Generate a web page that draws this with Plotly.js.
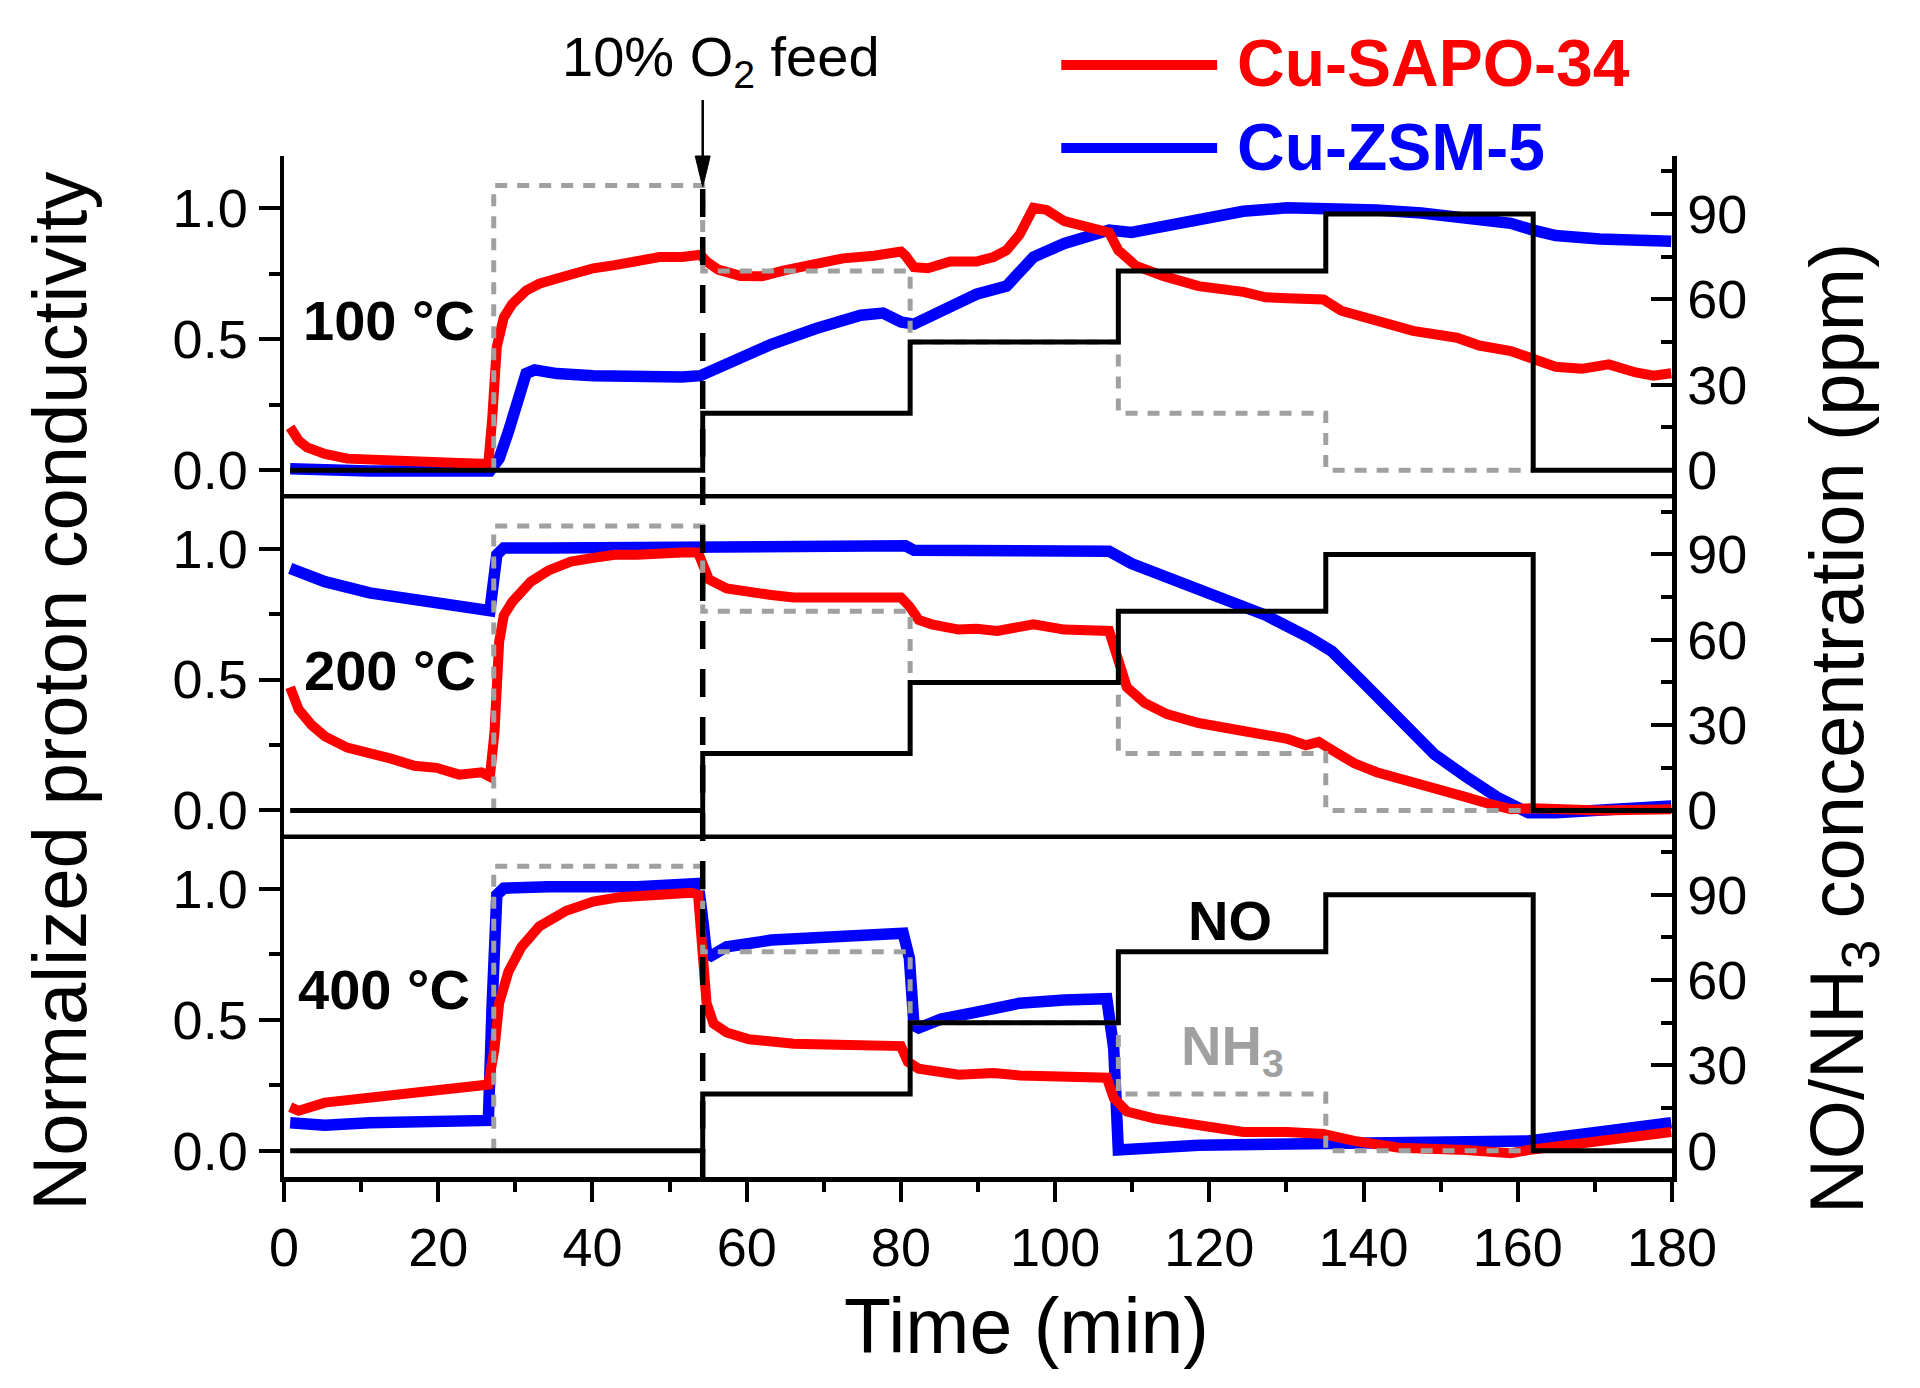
<!DOCTYPE html>
<html>
<head>
<meta charset="utf-8">
<script src="https://cdn.plot.ly/plotly-3.0.1.min.js"></script>
<style>
  html, body { margin: 0; padding: 0; background: #fff; }
  #chart { width: 1920px; height: 1388px; }
</style>
</head>
<body>
<div id="chart"></div>
<script>
/***** gas feed steps (ppm, right axis) *****/
var stepTimes = [0.8, 27.2, 54.3, 81.2, 108.2, 135.1, 162, 180];
var noPpm     = [0,   0,    20,   45,   70,    90,    0,   0];
var nh3Times  = [27.2, 27.2, 54.3, 81.2, 108.2, 135.1, 162];
var nh3Ppm    = [0,    100,  70,   45,   20,    0,     0];
var o2FeedTime = 54.3;

/***** 100 °C *****/
var tSapo100 = [0.8, 1.9, 3.0, 5.3, 8.2, 11.1, 16.9, 22.7, 25.6, 26.5, 27.0, 27.6, 28.5, 29.6, 31.4, 33.1, 35.4, 37.7, 40.1, 42.9,
  45.8, 48.7, 51.6, 54.0, 54.8, 56.3, 59.2, 62.0, 64.9, 69.0, 72.5, 76.5, 80.0, 80.6, 81.7, 83.5, 86.4, 89.8, 92.0, 93.7,
  95.4, 97.2, 98.9, 101.2, 104.1, 107.0, 108.2, 110.5, 114.0, 118.6, 124.4, 127.3, 130.1, 134.8, 137.1, 140.5, 146.4, 152.1, 155.0, 159.1,
  162.0, 164.9, 168.3, 171.8, 175.3, 177.6, 179.9];
var sapo100 = [0.164, 0.113, 0.087, 0.062, 0.044, 0.039, 0.033, 0.027, 0.024, 0.027, 0.198, 0.472, 0.583, 0.635, 0.686, 0.712, 0.732, 0.751, 0.771, 0.783,
  0.794, 0.814, 0.814, 0.823, 0.797, 0.766, 0.742, 0.741, 0.763, 0.789, 0.809, 0.819, 0.835, 0.819, 0.775, 0.771, 0.797, 0.797, 0.814, 0.840,
  0.900, 1.002, 0.994, 0.951, 0.925, 0.908, 0.840, 0.780, 0.742, 0.703, 0.681, 0.660, 0.657, 0.652, 0.609, 0.578, 0.532, 0.506, 0.476, 0.455,
  0.421, 0.395, 0.387, 0.404, 0.373, 0.361, 0.370];
var tZsm100 = [0.8, 11.1, 26.7, 27.9, 29.1, 30.2, 31.4, 32.5, 35.4, 40.1, 45.8, 51.6, 54.0, 57.4, 63.2, 69.0, 74.8, 77.7, 80.0, 81.7,
  85.2, 89.8, 93.7, 95.4, 97.2, 101.2, 107.0, 109.9, 112.8, 118.6, 124.4, 130.1, 135.9, 141.7, 147.5, 153.3, 159.1, 162.0, 164.9, 170.6,
  176.4, 179.9];
var zsm100 = [0.005, -0.003, -0.003, 0.044, 0.147, 0.267, 0.369, 0.383, 0.369, 0.361, 0.356, 0.356, 0.361, 0.404, 0.481, 0.541, 0.592, 0.600, 0.566, 0.558,
  0.609, 0.672, 0.703, 0.763, 0.814, 0.866, 0.917, 0.908, 0.925, 0.960, 0.989, 1.002, 1.002, 0.994, 0.982, 0.968, 0.943, 0.917, 0.896, 0.883,
  0.878, 0.874];

/***** 200 °C *****/
var tSapo200 = [0.8, 1.9, 3.6, 5.3, 8.2, 11.1, 14.0, 16.9, 19.8, 22.7, 25.6, 26.7, 27.3, 27.9, 28.5, 29.6, 32.0, 34.3, 37.2, 40.1,
  42.9, 45.8, 48.7, 51.6, 53.7, 54.5, 55.1, 57.4, 60.3, 63.2, 66.1, 69.0, 71.9, 74.8, 80.0, 81.1, 82.3, 84.0, 87.5, 89.8,
  92.5, 97.2, 101.2, 107.0, 108.2, 109.3, 111.6, 114.5, 118.6, 124.4, 130.1, 132.5, 134.2, 135.9, 138.8, 141.7, 144.6, 147.5, 150.4, 153.3,
  156.2, 159.1, 162.0, 170.6, 179.9];
var sapo200 = [0.471, 0.386, 0.326, 0.283, 0.240, 0.223, 0.197, 0.171, 0.163, 0.137, 0.146, 0.129, 0.300, 0.643, 0.745, 0.797, 0.874, 0.917, 0.951, 0.965,
  0.977, 0.977, 0.985, 0.985, 0.985, 0.934, 0.883, 0.848, 0.831, 0.823, 0.814, 0.814, 0.809, 0.805, 0.814, 0.780, 0.728, 0.711, 0.691, 0.694,
  0.686, 0.711, 0.691, 0.686, 0.557, 0.471, 0.411, 0.368, 0.334, 0.300, 0.274, 0.249, 0.262, 0.231, 0.180, 0.146, 0.120, 0.094, 0.069, 0.051,
  0.026, 0.005, 0.009, 0.000, 0.005];
var tZsm200 = [0.8, 5.3, 11.1, 16.9, 22.7, 26.7, 27.6, 28.5, 34.3, 45.8, 57.4, 80.6, 81.7, 89.8, 107.0, 109.9, 115.7, 121.5, 127.3, 133.0,
  135.9, 140.0, 144.6, 149.2, 153.3, 157.3, 161.4, 164.9, 179.9];
var zsm200 = [0.925, 0.874, 0.831, 0.805, 0.780, 0.763, 0.977, 1.003, 1.003, 1.006, 1.003, 1.011, 0.994, 0.990, 0.990, 0.943, 0.874, 0.814, 0.746, 0.660,
  0.608, 0.488, 0.343, 0.214, 0.129, 0.051, -0.009, -0.009, 0.017];

/***** 400 °C *****/
var tSapo400 = [0.8, 1.9, 5.3, 11.1, 16.9, 22.7, 25.6, 26.5, 27.3, 27.9, 29.1, 30.8, 33.1, 36.6, 40.1, 43.5, 48.7, 52.8, 53.7, 54.2,
  54.8, 55.7, 57.4, 60.3, 66.1, 71.9, 80.0, 80.9, 82.3, 87.5, 89.8, 92.0, 95.4, 101.2, 106.7, 107.6, 109.3, 112.8, 118.6, 124.4,
  130.1, 134.8, 138.8, 144.6, 153.3, 159.1, 161.4, 170.6, 179.9];
var sapo400 = [0.167, 0.153, 0.184, 0.202, 0.222, 0.233, 0.245, 0.253, 0.391, 0.564, 0.684, 0.779, 0.857, 0.917, 0.952, 0.969, 0.978, 0.986, 0.978, 0.736,
  0.564, 0.486, 0.452, 0.426, 0.409, 0.405, 0.400, 0.340, 0.314, 0.291, 0.297, 0.297, 0.288, 0.284, 0.279, 0.202, 0.150, 0.124, 0.098, 0.072,
  0.072, 0.064, 0.038, 0.012, 0.003, -0.009, 0.003, 0.038, 0.072];
var tZsm400 = [0.8, 5.3, 11.1, 16.9, 22.7, 26.5, 27.0, 27.6, 28.5, 34.3, 45.8, 53.7, 54.2, 54.8, 55.4, 57.4, 63.2, 69.0, 74.8, 80.3,
  81.1, 81.7, 82.3, 85.2, 89.8, 95.4, 101.2, 106.7, 107.6, 108.2, 118.6, 135.9, 147.5, 161.4, 170.6, 179.9];
var zsm400 = [0.107, 0.098, 0.107, 0.112, 0.116, 0.116, 0.564, 0.978, 1.003, 1.009, 1.009, 1.021, 0.909, 0.753, 0.745, 0.779, 0.805, 0.814, 0.819, 0.831,
  0.736, 0.478, 0.469, 0.503, 0.530, 0.564, 0.576, 0.581, 0.391, 0.003, 0.021, 0.029, 0.029, 0.038, 0.072, 0.107];

var FONT = 'Arial, "Liberation Sans", sans-serif';
var RED = '#ff0000', BLUE = '#0000ff', GRAY = '#a0a0a0';

// one panel = blue, red, NH3 (dashed gray), NO (black), in that drawing order
function panel(tz, z, ts, s, yl, yr) {
  return [
    { x: tz, y: z, type: 'scatter', mode: 'lines', yaxis: yl, name: 'Cu-ZSM-5',
      line: { color: BLUE, width: 11.5 } },
    { x: ts, y: s, type: 'scatter', mode: 'lines', yaxis: yl, name: 'Cu-SAPO-34',
      line: { color: RED, width: 10 } },
    { x: nh3Times, y: nh3Ppm, type: 'scatter', mode: 'lines', yaxis: yr, name: 'NH3',
      line: { color: GRAY, width: 5, shape: 'hv', dash: '12px,10px' } },
    { x: stepTimes, y: noPpm, type: 'scatter', mode: 'lines', yaxis: yr, name: 'NO',
      line: { color: 'black', width: 5, shape: 'hv' } }
  ];
}

var data = [].concat(
  panel(tZsm400, zsm400, tSapo400, sapo400, 'y', 'y4'),
  panel(tZsm200, zsm200, tSapo200, sapo200, 'y2', 'y5'),
  panel(tZsm100, zsm100, tSapo100, sapo100, 'y3', 'y6')
);

function leftAxis(domain) {
  return {
    domain: domain, range: [-0.1, 1.2], anchor: 'x',
    tick0: 0, dtick: 0.5, tickformat: '.1f',
    ticks: 'outside', ticklen: 21, tickwidth: 4, tickcolor: 'black',
    minor: { dtick: 0.25, tick0: 0, ticks: 'outside', ticklen: 11, tickwidth: 4, tickcolor: 'black', showgrid: false },
    showline: true, linewidth: 4.5, linecolor: 'black',
    showgrid: false, zeroline: false,
    tickfont: { family: FONT, size: 54, color: 'black' }
  };
}
function rightAxis(over) {
  return {
    overlaying: over, side: 'right', anchor: 'x', range: [-9.2, 110.4],
    tick0: 0, dtick: 30,
    ticks: 'inside', ticklen: 21, tickwidth: 4, tickcolor: 'black',
    minor: { dtick: 15, tick0: 0, ticks: 'inside', ticklen: 11, tickwidth: 4, tickcolor: 'black', showgrid: false },
    showline: true, linewidth: 4.5, linecolor: 'black',
    showgrid: false, zeroline: false,
    tickfont: { family: FONT, size: 54, color: 'black' }
  };
}

// arrow above the O2 feed line: shaft + filled head (paper y, data x)
var arrowTip = 0.9696, arrowTail = 1.0549, headLen = 0.0304, headHalf = 0.97;

var layout = {
  width: 1920, height: 1388,
  margin: { l: 284, r: 248, t: 156, b: 211 },
  paper_bgcolor: 'white', plot_bgcolor: 'white',
  showlegend: false,
  font: { family: FONT, color: 'black' },
  xaxis: {
    domain: [0, 1], range: [0, 180], anchor: 'y',
    tick0: 0, dtick: 20,
    ticks: 'outside', ticklen: 20, tickwidth: 4, tickcolor: 'black',
    minor: { dtick: 10, ticks: 'outside', ticklen: 10, tickwidth: 4, tickcolor: 'black', showgrid: false },
    showline: true, linewidth: 4.5, linecolor: 'black',
    showgrid: false, zeroline: false,
    tickfont: { family: FONT, size: 54, color: 'black' }
  },
  yaxis: leftAxis([0, 1 / 3]),
  yaxis2: leftAxis([1 / 3, 2 / 3]),
  yaxis3: leftAxis([2 / 3, 1]),
  yaxis4: rightAxis('y'),
  yaxis5: rightAxis('y2'),
  yaxis6: rightAxis('y3'),
  shapes: [
    // panel separators
    { type: 'line', xref: 'paper', yref: 'paper', x0: 0, x1: 1, y0: 1 / 3, y1: 1 / 3, line: { color: 'black', width: 4.5 } },
    { type: 'line', xref: 'paper', yref: 'paper', x0: 0, x1: 1, y0: 2 / 3, y1: 2 / 3, line: { color: 'black', width: 4.5 } },
    // O2 feed marker
    { type: 'line', xref: 'x', yref: 'paper', x0: o2FeedTime, x1: o2FeedTime, y0: 0, y1: arrowTip,
      line: { color: 'black', width: 5.5, dash: '28px,20px' } },
    { type: 'line', xref: 'x', yref: 'paper', x0: o2FeedTime, x1: o2FeedTime, y0: arrowTail, y1: arrowTip + headLen,
      line: { color: 'black', width: 2.5 } },
    { type: 'path', xref: 'x', yref: 'paper',
      path: 'M ' + (o2FeedTime - headHalf) + ',' + (arrowTip + headLen) +
            ' L ' + (o2FeedTime + headHalf) + ',' + (arrowTip + headLen) +
            ' L ' + o2FeedTime + ',' + arrowTip + ' Z',
      fillcolor: 'black', line: { color: 'black', width: 1 } },
    // legend swatches
    { type: 'line', xref: 'paper', yref: 'paper', x0: 0.560, x1: 0.6723, y0: 1.0891, y1: 1.0891, line: { color: RED, width: 10 } },
    { type: 'line', xref: 'paper', yref: 'paper', x0: 0.560, x1: 0.6723, y0: 1.0078, y1: 1.0078, line: { color: BLUE, width: 10 } }
  ],
  annotations: [
    { text: '10% O<sub>2</sub> feed', xref: 'paper', yref: 'paper', x: 0.1991, y: 1.094,
      xanchor: 'left', yanchor: 'middle', showarrow: false, font: { family: FONT, size: 56, color: 'black' } },
    { text: '<b>Cu-SAPO-34</b>', xref: 'paper', yref: 'paper', x: 0.6853, y: 1.091,
      xanchor: 'left', yanchor: 'middle', showarrow: false, font: { family: FONT, size: 66, color: RED } },
    { text: '<b>Cu-ZSM-5</b>', xref: 'paper', yref: 'paper', x: 0.6853, y: 1.0088,
      xanchor: 'left', yanchor: 'middle', showarrow: false, font: { family: FONT, size: 66, color: BLUE } },
    { text: '<b>100 °C</b>', xref: 'paper', yref: 'paper', x: 0.0119, y: 0.8384,
      xanchor: 'left', yanchor: 'middle', showarrow: false, font: { family: FONT, size: 56, color: 'black' } },
    { text: '<b>200 °C</b>', xref: 'paper', yref: 'paper', x: 0.0133, y: 0.4963,
      xanchor: 'left', yanchor: 'middle', showarrow: false, font: { family: FONT, size: 56, color: 'black' } },
    { text: '<b>400 °C</b>', xref: 'paper', yref: 'paper', x: 0.0090, y: 0.1839,
      xanchor: 'left', yanchor: 'middle', showarrow: false, font: { family: FONT, size: 56, color: 'black' } },
    { text: '<b>NO</b>', xref: 'paper', yref: 'paper', x: 0.6812, y: 0.2515,
      xanchor: 'center', yanchor: 'middle', showarrow: false, font: { family: FONT, size: 56, color: 'black' } },
    { text: '<b>NH<sub>3</sub></b>', xref: 'paper', yref: 'paper', x: 0.6830, y: 0.1250,
      xanchor: 'center', yanchor: 'middle', showarrow: false, font: { family: FONT, size: 56, color: GRAY } },
    { text: 'Normalized proton conductivity', xref: 'paper', yref: 'paper', x: -0.1617, y: 0.4759,
      textangle: -90, xanchor: 'center', yanchor: 'middle', showarrow: false, font: { family: FONT, size: 76, color: 'black' } },
    { text: 'NO/NH<sub>3</sub> concentration (ppm)', xref: 'paper', yref: 'paper', x: 1.1224, y: 0.4396,
      textangle: -90, xanchor: 'center', yanchor: 'middle', showarrow: false, font: { family: FONT, size: 76, color: 'black' } },
    { text: 'Time (min)', xref: 'paper', yref: 'paper', x: 0.5347, y: -0.1462,
      xanchor: 'center', yanchor: 'middle', showarrow: false, font: { family: FONT, size: 77, color: 'black' } }
  ]
};

var config = { staticPlot: true, displayModeBar: false };
Plotly.newPlot('chart', data, layout, config);
</script>
</body>
</html>
